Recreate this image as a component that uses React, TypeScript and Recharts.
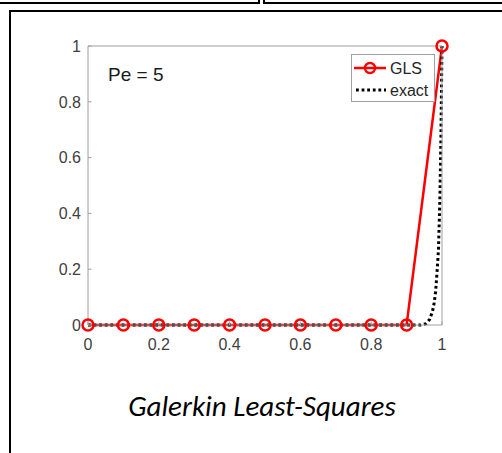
import React from "react";
import { LineChart, Line, XAxis, YAxis } from "recharts";

const glsX = [0, 0.1, 0.2, 0.3, 0.4, 0.5, 0.6, 0.7, 0.8, 0.9, 1];
const glsY = [0, 0, 0, 0, 0, 0, 0, 0, 0, 0, 1];

const exactX = [0, 0.94, 0.955, 0.965, 0.973, 0.978, 0.982, 0.986, 0.99, 0.994, 0.997, 1];
const exactY = [0, 0, 0.005, 0.02, 0.048, 0.08, 0.12, 0.19, 0.27, 0.45, 0.68, 1];

const xTicks = [0, 0.2, 0.4, 0.6, 0.8, 1];
const yTicks = [0, 0.2, 0.4, 0.6, 0.8, 1];

const glsData = glsX.map((x, i) => ({ x, y: glsY[i] }));
const exactData = exactX.map((x, i) => ({ x, y: exactY[i] }));

const AX = "#a0a0a0";
const TXT = "#404040";
const FONT = "'Liberation Sans', Arial, sans-serif";

const fmt = (v: number) => String(v);

const XTick = (p: any) => (
  <g>
    <line x1={p.x} y1={p.y} x2={p.x} y2={p.y - 3.5} stroke={AX} strokeWidth={1} />
    <text x={p.x} y={p.y + 25} textAnchor="middle" fontSize={16} fontFamily={FONT} fill={TXT}>
      {fmt(p.payload.value)}
    </text>
  </g>
);
const YTick = (p: any) => (
  <g>
    <line x1={p.x} y1={p.y} x2={p.x + 3.5} y2={p.y} stroke={AX} strokeWidth={1} />
    <text x={p.x - 7} y={p.y} dy="0.36em" textAnchor="end" fontSize={16} fontFamily={FONT} fill={TXT}>
      {fmt(p.payload.value)}
    </text>
  </g>
);
const TopTick = (p: any) => (
  <line x1={p.x} y1={p.y} x2={p.x} y2={p.y + 3.5} stroke={AX} strokeWidth={1} />
);
const RightTick = (p: any) => (
  <line x1={p.x} y1={p.y} x2={p.x - 3.5} y2={p.y} stroke={AX} strokeWidth={1} />
);

const abs = (s: React.CSSProperties): React.CSSProperties => ({ position: "absolute", ...s });

export default function App() {
  return (
    <div style={abs({ left: 0, top: 0, width: 502, height: 453, background: "#fff", overflow: "hidden" })}>
      {/* table borders */}
      <div style={abs({ left: 0, top: 2, width: 260, height: 2, background: "#000" })} />
      <div style={abs({ left: 258, top: 0, width: 2, height: 4, background: "#000" })} />
      <div style={abs({ left: 263, top: 2, width: 239, height: 2, background: "#000" })} />
      <div style={abs({ left: 263, top: 0, width: 2, height: 4, background: "#000" })} />
      <div style={abs({ left: 9, top: 10, width: 493, height: 2, background: "#000" })} />
      <div style={abs({ left: 9, top: 10, width: 2, height: 443, background: "#000" })} />

      <div style={abs({ left: 0, top: 0 })}>
        <LineChart width={502} height={453} margin={{ top: 45, right: 59, bottom: 98, left: 48 }}>
          <XAxis
            xAxisId="b"
            dataKey="x"
            type="number"
            domain={[0, 1]}
            ticks={xTicks}
            height={30}
            tickSize={0}
            tickMargin={0}
            tickLine={false}
            tick={<XTick />}
            stroke={AX}
            interval={0}
          />
          <XAxis
            xAxisId="t"
            orientation="top"
            dataKey="x"
            type="number"
            domain={[0, 1]}
            ticks={xTicks}
            height={1}
            tickSize={0}
            tickMargin={0}
            tickLine={false}
            tick={<TopTick />}
            stroke={AX}
            interval={0}
          />
          <YAxis
            yAxisId="l"
            type="number"
            domain={[0, 1]}
            ticks={yTicks}
            width={40}
            tickSize={0}
            tickMargin={0}
            tickLine={false}
            tick={<YTick />}
            stroke={AX}
            interval={0}
          />
          <YAxis
            yAxisId="r"
            orientation="right"
            type="number"
            domain={[0, 1]}
            ticks={yTicks}
            width={1}
            tickSize={0}
            tickMargin={0}
            tickLine={false}
            tick={<RightTick />}
            stroke={AX}
            interval={0}
          />
          <Line
            xAxisId="b"
            yAxisId="l"
            data={glsData}
            dataKey="y"
            type="linear"
            stroke="#ff0000"
            strokeWidth={2.5}
            dot={{ r: 5.5, stroke: "#ff0000", strokeWidth: 2.5, fill: "none" }}
            isAnimationActive={false}
          />
          <Line
            xAxisId="b"
            yAxisId="l"
            data={exactData}
            dataKey="y"
            type="linear"
            stroke="#000"
            strokeWidth={3}
            strokeDasharray="2.8 2.8"
            dot={false}
            isAnimationActive={false}
          />
        </LineChart>
      </div>

      {/* Pe label */}
      <div style={abs({ left: 108, top: 64, fontFamily: FONT, fontSize: 19, color: "#1a1a1a", lineHeight: "22px", whiteSpace: "nowrap" })}>
        Pe = 5
      </div>

      {/* legend */}
      <div style={abs({ left: 351, top: 54, width: 82, height: 46, border: `1px solid ${AX}`, background: "#fff" })}>
        <svg width={82} height={46} style={{ position: "absolute", left: 0, top: 0 }}>
          <line x1={2} y1={13} x2={34} y2={13} stroke="#ff0000" strokeWidth={2.5} />
          <circle cx={18} cy={13} r={5} stroke="#ff0000" strokeWidth={2.5} fill="none" />
          <line x1={4} y1={35} x2={34} y2={35} stroke="#000" strokeWidth={3} strokeDasharray="2.8 2.8" />
          <text x={38} y={13} dy="0.36em" fontSize={16} fontFamily={FONT} fill="#262626">GLS</text>
          <text x={38} y={35} dy="0.36em" fontSize={16} fontFamily={FONT} fill="#262626">exact</text>
        </svg>
      </div>

      {/* caption */}
      <div style={abs({ left: 0, width: 524, top: 389, textAlign: "center", fontFamily: "Carlito, Lato, 'Open Sans', sans-serif", fontStyle: "italic", fontSize: 29, color: "#000", lineHeight: "34px", whiteSpace: "nowrap" })}>
        Galerkin Least-Squares
      </div>
    </div>
  );
}
